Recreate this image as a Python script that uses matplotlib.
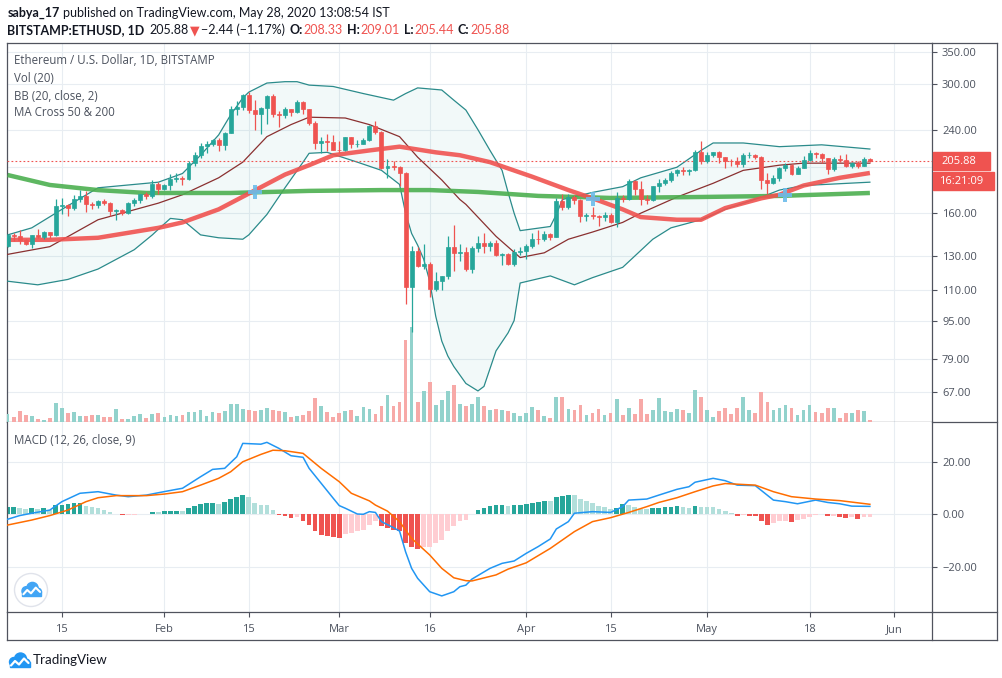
import numpy as np
import pandas as pd
import matplotlib
matplotlib.use("Agg")
import matplotlib.pyplot as plt
from matplotlib import font_manager
from matplotlib.patches import Rectangle, Circle
from matplotlib.lines import Line2D
from matplotlib.transforms import Affine2D
from matplotlib.ticker import FixedLocator, FixedFormatter, NullLocator, NullFormatter

W, H = 1003, 678

# ------------------------------------------------------------------ data
dates = pd.date_range("2020-01-06", "2020-05-28", freq="D")

opens = [136.3, 144.2, 142.9, 140.8, 137.9, 144.1, 142.6, 146.1, 143.6, 165.9, 166.4, 163.8, 171.1, 174.2, 166.9, 166.7, 169.8, 168.3, 162.1, 162.4, 160.5, 168.0, 170.6, 175.4, 173.7, 184.7,
         179.9, 183.5, 188.7, 189.6, 189.1, 203.7, 212.7, 222.2, 223.5, 228.6, 222.7, 236.1, 265.0, 268.3, 284.2, 264.7, 259.6, 267.0, 282.3, 258.6, 257.9, 265.4, 261.9, 274.6, 265.0, 247.6, 225.0, 227.3, 226.1,
         217.7, 217.6, 231.5, 223.6, 223.9, 228.1, 244.1, 237.7, 199.5, 201.6, 200.6, 194.2, 111.7, 133.3, 124.0, 124.8, 110.6, 114.9, 117.7, 136.0, 131.6, 132.3, 122.0, 135.1, 138.4, 136.3, 138.6, 130.6, 131.0, 125.2, 132.4,
         133.4, 136.3, 141.3, 141.1, 144.4, 142.8, 169.9, 164.5, 173.4, 170.9, 157.9, 158.5, 158.0, 156.9, 158.3, 153.3, 172.2, 171.1, 186.8, 180.2, 171.5, 170.3, 182.3, 185.3, 187.8, 194.4, 197.1, 196.1, 197.0, 215.3,
         206.6, 212.7, 214.9, 209.7, 206.6, 205.8, 203.5, 212.0, 212.7, 210.6, 188.0, 185.5, 189.4, 199.0, 202.5, 193.7, 199.6, 207.0, 214.1, 213.4, 208.8, 198.6, 208.5, 207.6, 201.6, 204.0, 201.0, 208.33]
highs = [144.5, 145.4, 147.5, 141.3, 144.1, 148.3, 146.4, 146.3, 171.7, 171.9, 167.4, 174.8, 179.4, 178.0, 169.2, 170.6, 171.2, 168.7, 163.5, 163.0, 168.7, 172.6, 176.0, 177.4, 187.6, 185.9,
         184.5, 194.0, 194.6, 191.5, 206.0, 215.7, 224.9, 227.4, 229.8, 230.4, 237.2, 269.9, 276.5, 286.0, 288.0, 276.7, 267.8, 284.7, 286.0, 262.7, 268.5, 266.0, 276.6, 275.9, 265.5, 250.1, 232.0, 235.0, 233.6,
         227.7, 232.1, 232.0, 228.8, 230.4, 245.5, 250.9, 238.0, 208.4, 206.4, 200.8, 195.6, 136.5, 135.6, 137.6, 126.5, 120.5, 118.0, 143.3, 151.0, 137.6, 136.1, 136.3, 142.9, 145.3, 139.5, 140.6, 131.6, 131.7, 134.6, 135.6,
         137.6, 145.0, 147.3, 146.9, 145.6, 172.4, 175.4, 175.4, 174.4, 171.2, 160.5, 165.0, 158.7, 161.0, 160.0, 177.0, 175.0, 188.8, 188.0, 186.9, 175.0, 183.0, 188.6, 190.0, 196.7, 198.5, 200.0, 198.0, 217.5, 227.3,
         215.0, 215.6, 216.6, 210.5, 208.2, 210.7, 213.8, 215.0, 213.0, 210.9, 194.5, 192.3, 200.5, 204.6, 203.6, 201.0, 210.8, 217.4, 215.4, 214.4, 209.0, 210.0, 212.4, 212.9, 205.6, 205.8, 209.7, 209.01]
lows = [135.9, 140.0, 137.6, 137.0, 135.3, 142.0, 141.3, 141.8, 143.5, 159.3, 157.5, 162.2, 169.0, 161.3, 163.0, 164.3, 166.4, 158.0, 154.9, 158.3, 159.4, 166.0, 168.3, 171.6, 171.9, 176.0,
        179.2, 179.5, 186.6, 183.9, 188.4, 201.1, 209.0, 214.8, 222.0, 216.6, 217.6, 235.8, 258.0, 264.0, 260.0, 240.0, 235.0, 246.6, 255.8, 242.6, 253.5, 256.6, 260.5, 258.8, 245.5, 218.1, 214.5, 216.2, 217.4,
        214.3, 216.1, 219.5, 220.3, 223.6, 227.5, 235.4, 198.2, 190.0, 197.6, 182.6, 103.0, 90.0, 123.3, 122.3, 106.5, 109.7, 110.0, 116.0, 121.0, 126.6, 121.0, 119.9, 132.5, 132.0, 132.9, 129.7, 124.2, 124.3, 124.1, 130.6,
        128.1, 135.0, 137.6, 139.7, 140.4, 142.5, 162.5, 163.3, 167.5, 153.3, 154.0, 155.8, 150.6, 154.4, 152.7, 149.4, 169.0, 170.8, 175.0, 166.5, 167.0, 169.5, 177.5, 183.3, 186.3, 191.6, 192.9, 193.0, 196.2, 203.6,
        204.4, 210.5, 204.5, 198.8, 201.0, 200.0, 200.5, 209.0, 207.8, 180.0, 175.7, 184.4, 187.5, 196.2, 192.3, 193.1, 199.4, 205.7, 209.2, 204.0, 193.1, 196.7, 205.5, 200.7, 199.5, 199.5, 200.8, 205.44]
closes = [144.2, 142.9, 140.8, 137.9, 144.1, 142.6, 146.1, 143.6, 165.9, 166.4, 163.8, 171.1, 174.2, 166.9, 166.7, 169.8, 168.3, 162.1, 162.4, 160.5, 168.0, 170.6, 175.4, 173.7, 184.7, 179.9,
          183.5, 188.7, 189.6, 189.1, 203.7, 212.7, 222.2, 223.5, 228.6, 222.7, 236.1, 265.0, 268.3, 284.2, 264.7, 259.6, 267.0, 282.3, 258.6, 257.9, 265.4, 261.9, 274.6, 265.0, 247.6, 225.0, 227.3, 226.1, 217.7,
          217.6, 231.5, 223.6, 223.9, 228.1, 244.1, 237.7, 199.5, 201.6, 200.6, 194.2, 111.7, 133.3, 124.0, 124.8, 110.6, 114.9, 117.7, 136.0, 131.6, 132.3, 122.0, 135.1, 138.4, 136.3, 138.6, 130.6, 131.0, 125.2, 132.4, 133.4,
          136.3, 141.3, 141.1, 144.4, 142.8, 169.9, 164.5, 173.4, 170.9, 157.9, 158.5, 158.0, 156.9, 158.3, 153.3, 172.2, 171.1, 186.8, 180.2, 171.5, 170.3, 182.3, 185.3, 187.8, 194.4, 197.1, 196.1, 197.0, 215.3, 206.6,
          212.7, 214.9, 209.7, 206.6, 205.8, 203.5, 212.0, 212.7, 210.6, 188.0, 185.5, 189.4, 199.0, 202.5, 193.7, 199.6, 207.0, 214.1, 213.4, 208.8, 198.6, 208.5, 207.6, 201.6, 204.0, 201.0, 208.33, 205.88]
volumes = [83, 53, 113, 73, 63, 33, 23, 43, 193, 143, 93, 103, 63, 63, 73, 73, 47, 53, 133, 30,
           33, 63, 83, 43, 83, 93, 47, 73, 63, 73, 103, 103, 123, 63, 103, 93, 113, 183, 183, 133,
           123, 113, 123, 143, 123, 113, 103, 53, 63, 73, 113, 243, 163, 103, 53, 93, 113, 123, 63, 153,
           133, 83, 163, 273, 163, 203, 823, 950, 203, 313, 403, 173, 223, 313, 373, 183, 163, 183, 253, 163,
           123, 133, 123, 113, 93, 63, 93, 153, 123, 63, 43, 253, 253, 133, 123, 173, 73, 93, 133, 73,
           93, 233, 73, 143, 83, 233, 83, 123, 243, 113, 103, 133, 123, 93, 323, 253, 123, 53, 113, 143,
           83, 143, 253, 123, 93, 303, 203, 123, 143, 173, 143, 73, 123, 173, 103, 93, 143, 143, 43, 93,
           93, 123, 113, 23]
macd_hist = [2.7, 2.8, 2.4, 2.0, 2.4, 2.0, 2.1, 1.65, 3.4, 3.6,
             3.8, 4.1, 4.15, 3.2, 2.8, 2.4, 1.65, 0.75, 0.15, -0.5,
             -0.4, -0.35, 0.13, 0.15, 0.9, 0.88, 1.0, 1.27, 1.3, 1.25,
             2.2, 2.9, 3.9, 4.05, 4.1, 3.7, 4.4, 5.6, 6.6, 7.4,
             6.35, 4.3, 3.6, 3.55, 1.65, -0.4, -0.9, -1.65, -1.3, -2.5,
             -4.1, -6.6, -7.9, -8.5, -8.9, -9.3, -7.6, -7.2, -6.6, -6.0,
             -4.1, -2.8, -4.7, -5.3, -6.0, -6.6, -11.0, -12.4, -13.2, -12.7,
             -12.6, -11.0, -9.8, -6.6, -4.7, -2.8, -2.2, -0.1, 1.65, 2.4,
             3.2, 3.25, 3.6, 3.2, 3.3, 3.6, 3.9, 4.3, 4.7, 5.1,
             5.0, 6.6, 7.0, 7.4, 7.3, 5.8, 5.1, 4.3, 3.2, 2.8,
             2.0, 2.4, 3.9, 3.6, 2.8, 2.0, 1.9, 2.4, 2.45, 2.5,
             2.8, 2.9, 2.8, 2.4, 3.2, 2.8, 2.75, 2.7, 2.0, 1.3,
             0.5, -0.9, -0.5, -0.6, -0.9, -2.5, -4.1, -3.6, -2.8, -2.7,
             -2.95, -2.4, -1.8, -1.1, -0.5, 0.1, -0.9, -0.8, -1.0, -1.5,
             -1.2, -1.8, -1.3, -1.25]

# indicator lines, read at sample days (day 0 = 2020-01-06)
macd_day = [0, 2, 4, 7, 9, 12, 15, 18, 20, 23, 25, 28, 29, 32, 34, 36, 38, 39, 41, 42, 43, 45, 47, 49, 50, 52, 54, 55, 56, 58, 59, 60, 61, 62, 64, 65, 66, 67, 68, 70, 72, 74, 75, 76, 77, 80, 82, 84, 86, 88, 90, 91, 93, 94, 97, 100, 102, 103, 106, 108, 111, 113, 114, 117, 119, 121, 124, 127, 129, 131, 134, 136, 138, 140, 143]
macd_line = [-2.0, -0.6, 0.3, 1.5, 4.7, 7.9, 8.5, 7.2, 6.6, 7.2, 8.1, 9.4, 9.8, 14.2, 17.0, 17.4, 21.8, 26.9, 26.7, 26.6, 27.3, 25.0, 22.2, 21.6, 17.4, 11.7, 6.0, 3.2, 2.2, 0.0, -0.1, 0.9, 0.6, -2.9, -5.2, -6.5, -14.4, -20.7, -24.5, -29.6, -31.2, -29.6, -27.7, -27.1, -24.8, -20.7, -18.8, -17.9, -15.0, -12.4, -9.5, -5.7, -2.9, 0.3, 0.9, 0.6, 2.8, 5.3, 5.7, 7.2, 9.4, 10.4, 12.1, 13.6, 12.7, 11.0, 10.8, 5.3, 4.7, 3.9, 5.3, 4.4, 3.9, 3.0, 2.9]
signal_day = [0, 4, 7, 10, 13, 15, 18, 23, 26, 29, 32, 35, 37, 39, 42, 44, 46, 49, 50, 52, 55, 57, 60, 61, 63, 65, 67, 70, 72, 74, 76, 77, 81, 83, 86, 90, 94, 97, 100, 103, 106, 108, 111, 114, 117, 119, 124, 127, 130, 134, 138, 143]
signal_line = [-4.2, -2.3, -0.6, 1.5, 4.7, 6.2, 7.0, 7.0, 7.6, 8.5, 11.0, 13.6, 16.1, 19.9, 22.7, 24.3, 24.1, 23.1, 21.2, 17.4, 12.3, 7.9, 5.0, 3.4, 1.1, -2.9, -9.3, -15.6, -20.7, -24.3, -25.4, -25.5, -23.2, -21.0, -18.6, -13.1, -6.7, -2.9, -1.4, 0.6, 2.8, 4.4, 6.2, 8.5, 10.7, 11.6, 11.0, 8.5, 6.6, 5.7, 5.1, 3.7]

bb_upper_day = [0, 4, 9, 15, 25, 29, 32, 35, 37, 39, 40, 43, 46, 48, 50, 54, 59, 64, 66, 68, 72, 74, 76, 78, 80, 82, 83, 84, 85, 90, 91, 92, 97, 102, 105, 111, 115, 117, 122, 128, 135, 143]
bb_upper = [144, 149, 163, 181, 186, 194, 212, 234, 258, 280, 288, 301, 303, 303, 298, 296, 286, 277, 286, 294, 291, 277, 264, 240, 217, 197, 177, 160, 147, 150, 159, 171, 177, 182, 190, 200, 217, 225, 225, 221, 223, 218.5]
bb_basis_day = [0, 7, 15, 25, 29, 35, 39, 43, 47, 50, 56, 60, 65, 68, 72, 75, 76, 81, 85, 89, 93, 97, 102, 105, 111, 117, 122, 128, 132, 143]
bb_basis = [131, 136, 155, 168, 175, 190, 205, 232, 246, 255, 254, 246, 232, 210, 188, 171, 167, 143, 129, 132, 141, 146, 153, 160, 173, 185, 197, 202, 204, 204]
bb_lower_day = [0, 5, 10, 15, 21, 24, 25, 27, 29, 32, 35, 39, 40, 43, 46, 49, 50, 53, 58, 62, 65, 66, 67, 68, 69, 70, 71, 72, 73, 74, 76, 78, 79, 81, 83, 84, 85, 90, 94, 97, 102, 107, 110, 115, 119, 125, 128, 132, 143]
bb_lower = [115, 113, 116, 122, 134, 144, 148, 156, 155, 144, 142, 141, 144, 159, 181, 205, 214, 215, 205, 197, 184, 160, 145, 137, 128, 115, 97, 86, 80, 76, 70, 67.5, 69, 82, 89.5, 95, 114, 118, 113, 117, 123, 141, 149, 155, 163, 173, 179, 183, 186]
ma50_day = [0, 7, 15, 25, 29, 35, 40, 46, 50, 54, 60, 65, 71, 75, 80, 87, 93, 97, 102, 105, 111, 115, 119, 125, 128, 132, 138, 143]
ma50 = [140.6, 140.6, 142, 149, 153, 163, 176, 193, 202, 212, 217, 221, 215, 212, 205, 191, 179, 172, 163, 157, 155, 155, 164, 172, 175, 183, 190, 194.5]
ma200_day = [0, 7, 15, 23, 37, 50, 62, 70, 78, 88, 100, 115, 128, 143]
ma200 = [192.6, 183.5, 179, 176.5, 176.5, 178.3, 179, 179, 177.4, 174, 172.3, 173.1, 174, 176.5]
cross_day = [41, 97, 129]
cross_price = [177.5, 171.5, 175.0]

price_ticks = [350, 300, 240, 200, 160, 130, 110, 95, 79, 67]
price_tick_labels = ["350.00", "300.00", "240.00", "", "160.00", "130.00", "110.00", "95.00", "79.00", "67.00"]
macd_ticks = [20, 0, -20]
macd_tick_labels = ["20.00", "0.00", "\u221220.00"]
date_tick_dates = ["2020-01-15", "2020-02-01", "2020-02-15", "2020-03-01", "2020-03-16",
                   "2020-04-01", "2020-04-15", "2020-05-01", "2020-05-18", "2020-06-01"]
date_tick_labels = ["15", "Feb", "15", "Mar", "16", "Apr", "15", "May", "18", "Jun"]
last_price = 205.88
countdown = "16:21:09"

# ------------------------------------------------------------------ style
UP, DN = "#26a69a", "#ef5350"
VUP, VDN = "#92d2cc", "#f7a9a7"
GRID = "#e8edf2"
FRAME = "#50535e"
TXT = "#4c525e"

avail = {f.name for f in font_manager.fontManager.ttflist}
UI = "Open Sans" if "Open Sans" in avail else "DejaVu Sans"
HDR = "Liberation Sans Narrow" if "Liberation Sans Narrow" in avail else ("Lato" if "Lato" in avail else UI)
plt.rcParams["font.family"] = [UI, "DejaVu Sans"]

fig = plt.figure(figsize=(W / 100, H / 100), dpi=100)
fig.patch.set_facecolor("white")

# pixel transform (x from left, y from top)
T = Affine2D().scale(1 / 100, -1 / 100).translate(0, H / 100) + fig.dpi_scale_trans


def rect(x0, y0, x1, y1):
    return [x0 / W, 1 - y1 / H, (x1 - x0) / W, (y1 - y0) / H]


PX0, PX1, PXR = 6.7, 932.3, 996.5
MAIN = rect(PX0, 43, PX1, 422)
MACD = rect(PX0, 422, PX1, 612)

ax_g = fig.add_axes(MAIN)
ax_v = fig.add_axes(MAIN, sharex=ax_g)
ax = fig.add_axes(MAIN, sharex=ax_g, sharey=ax_g)
ax_m = fig.add_axes(MACD, sharex=ax_g)

x = np.arange(len(dates))
ax_g.set_xlim(-0.15, 153.35)
ax_g.set_yscale("log")
ax.set_yscale("log")
ax_g.set_ylim(58.05, 365.6)
ax_v.set_ylim(0, 3790)
ax_m.set_ylim(-37.33, 35.05)
ax_v.set_axis_off()
ax.set_axis_off()

date_pos = [(pd.Timestamp(d) - dates[0]).days for d in date_tick_dates]

# grid + price axis
ax_g.yaxis.set_major_locator(FixedLocator(price_ticks))
ax_g.yaxis.set_major_formatter(FixedFormatter(price_tick_labels))
ax_g.yaxis.set_minor_locator(NullLocator())
ax_g.yaxis.set_minor_formatter(NullFormatter())
ax_g.yaxis.tick_right()
ax_g.set_xticks(date_pos)
ax_g.tick_params(axis="x", length=0, labelbottom=False)
ax_g.tick_params(axis="y", direction="out", length=3.5, width=0.8, color=FRAME,
                 pad=3.5, labelsize=8, labelcolor=TXT)
ax_g.grid(True, color=GRID, lw=0.8)
ax_g.set_axisbelow(True)
for s in ax_g.spines.values():
    s.set_color(FRAME)
    s.set_linewidth(0.9)

# volume
o = np.array(opens); c = np.array(closes); hi = np.array(highs); lo = np.array(lows)
up = c >= o
ax_v.bar(x, volumes, width=0.62, color=np.where(up, VUP, VDN), lw=0)

# bollinger bands
ax.fill(np.r_[bb_upper_day, bb_lower_day[::-1]], np.r_[bb_upper, bb_lower[::-1]],
        color="#26a69a", alpha=0.06, lw=0, zorder=1)
ax.plot(bb_upper_day, bb_upper, color="#2b8b8b", lw=0.9, zorder=2)
ax.plot(bb_lower_day, bb_lower, color="#2b8b8b", lw=0.9, zorder=2)
ax.plot(bb_basis_day, bb_basis, color="#8a3030", lw=0.9, zorder=2)

# moving averages
ax.plot(ma200_day, ma200, color="#4caf50", lw=3.2, alpha=0.9, zorder=3, solid_capstyle="butt")
ax.plot(ma50_day, ma50, color="#f05350", lw=3.2, alpha=0.9, zorder=3, solid_capstyle="butt")
ax.plot(cross_day, cross_price, "P", ms=10, color="#6cbcea", alpha=0.9, mew=0, zorder=6)

# price line
ax.axhline(last_price, color=DN, lw=0.8, ls=(0, (1.6, 2.0)), zorder=3)

# candles
col = np.where(up, UP, DN)
ax.vlines(x, lo, hi, colors=col, lw=0.9, zorder=4)
ax.bar(x, np.abs(c - o), bottom=np.minimum(o, c), width=0.66, color=col,
       edgecolor=col, linewidth=0.5, zorder=5)

# MACD pane
hcol = []
prev = None
for v in macd_hist:
    rising = True if prev is None else v > prev
    if v >= 0:
        hcol.append("#26a69a" if rising else "#b2dfdb")
    else:
        hcol.append("#ffcdd2" if rising else "#ef5350")
    prev = v
ax_m.bar(x, macd_hist, width=0.78, color=hcol, lw=0, zorder=2)
ax_m.plot(macd_day, macd_line, color="#2196f3", lw=1.1, zorder=3)
ax_m.plot(signal_day, signal_line, color="#ff6d00", lw=1.1, zorder=3)
ax_m.yaxis.set_major_locator(FixedLocator(macd_ticks))
ax_m.yaxis.set_major_formatter(FixedFormatter(macd_tick_labels))
ax_m.yaxis.tick_right()
ax_m.set_xticks(date_pos)
ax_m.set_xticklabels(date_tick_labels)
ax_m.tick_params(axis="y", direction="out", length=3.5, width=0.8, color=FRAME,
                 pad=3.5, labelsize=8, labelcolor=TXT)
ax_m.tick_params(axis="x", direction="out", length=3.5, width=0.8, color=FRAME,
                 pad=5, labelsize=8, labelcolor=TXT)
ax_m.grid(True, color=GRID, lw=0.8)
ax_m.set_axisbelow(True)
for k, s in ax_m.spines.items():
    s.set_color(FRAME)
    s.set_linewidth(0.9)
ax_m.spines["top"].set_visible(False)

# frame lines outside the panes
for (x0, y0, x1, y1) in [(PX1, 43, PXR, 43), (PX1, 422, PXR, 422), (PX1, 612, PXR, 612),
                         (PX0, 640, PXR, 640), (PX0, 612, PX0, 640), (PX1, 612, PX1, 640),
                         (PXR, 43, PXR, 640)]:
    fig.add_artist(Line2D([x0, x1], [y0, y1], color=FRAME, lw=0.9, transform=T))

# last price / countdown labels on price scale
yd = ax_g.transData.transform((0, last_price))[1]
ycen = H - yd
fig.add_artist(Rectangle((933, ycen - 9), 57, 18, color=DN, transform=T, zorder=5))
fig.add_artist(Rectangle((933, ycen + 11), 61, 18, color=DN, transform=T, zorder=5))
fig.text(941, ycen, f"{last_price:.2f}", transform=T, color="white", fontsize=8,
         va="center", ha="left", zorder=6)
fig.text(939, ycen + 20, countdown, transform=T, color="white", fontsize=8,
         va="center", ha="left", zorder=6)

# pane legends
for yy, s in [(60, "Ethereum / U.S. Dollar, 1D, BITSTAMP"), (78, "Vol (20)"),
              (96, "BB (20, close, 2)"), (113, "MA Cross 50 & 200"), (440, "MACD (12, 26, close, 9)")]:
    fig.text(14, yy, s, transform=T, color=TXT, fontsize=8.3, va="center", ha="left")

# header: runs laid out one after another, each measured
BLK = "#131722"
line1 = [("sabya_17", BLK, "bold", 3), ("published on TradingView.com, May 28, 2020 13:08:54 IST", BLK, "normal", 0)]
line2 = [("BITSTAMP:ETHUSD, 1D", BLK, "bold", 5), ("205.88", BLK, "normal", 1),
         ("\u25bc", DN, "normal", 2), ("\u22122.44 (\u22121.17%)", BLK, "normal", 4),
         ("O:", BLK, "bold", 1), ("208.33", DN, "normal", 4),
         ("H:", BLK, "bold", 1), ("209.01", DN, "normal", 4),
         ("L:", BLK, "bold", 1), ("205.44", DN, "normal", 4),
         ("C:", BLK, "bold", 1), ("205.88", DN, "normal", 0)]
renderer = fig.canvas.get_renderer()
for yy, x0, runs in [(13, 8, line1), (30, 7, line2)]:
    xx = x0
    for s, cl, wt, gap in runs:
        t = fig.text(xx, yy, s, transform=T, color=cl, fontsize=9.0, fontweight=wt,
                     va="center", ha="left", family=[HDR, "DejaVu Sans"])
        xx += t.get_window_extent(renderer=renderer).width + gap


# logos
def cloud(cx, cy, s, color):
    parts = [Circle((cx - 5 * s, cy + 1 * s), 4.5 * s), Circle((cx + 1.5 * s, cy - 2 * s), 6 * s),
             Circle((cx + 7 * s, cy + 2 * s), 4 * s),
             Rectangle((cx - 9.5 * s, cy + 1 * s), 20.5 * s, 5 * s)]
    for p in parts:
        p.set_transform(T)
        p.set_color(color)
        p.set_zorder(7)
        fig.add_artist(p)
    fig.add_artist(Line2D([cx - 8 * s, cx - 4 * s, cx + 0 * s, cx + 5 * s, cx + 9.5 * s],
                          [cy + 4.5 * s, cy + 0 * s, cy + 3.5 * s, cy - 2.5 * s, cy + 2 * s],
                          color="white", lw=1.6 * s, transform=T, zorder=8,
                          solid_capstyle="round", solid_joinstyle="round"))


circ = Circle((31, 590), 16.5, facecolor="white", edgecolor="#e0e3eb", lw=1.0, transform=T, zorder=6)
fig.add_artist(circ)
cloud(31, 590, 0.95, "#42a5f5")
cloud(19, 661, 1.0, "#2196f3")
fig.text(33, 660, "TradingView", transform=T, color=BLK, fontsize=9.6, va="center",
         ha="left", family=[HDR, "DejaVu Sans"])

fig.savefig("out.png", dpi=100, facecolor="white")
